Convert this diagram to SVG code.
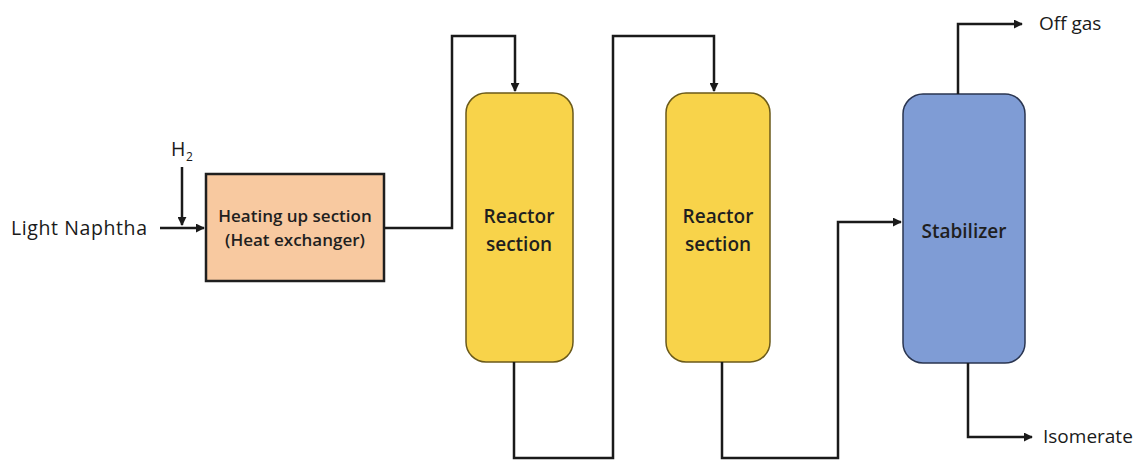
<svg xmlns="http://www.w3.org/2000/svg" width="1136" height="460" viewBox="0 0 1136 460">
<style>
.lbl{font-family:"Open Sans","Liberation Sans",sans-serif;font-size:19.5px;letter-spacing:0.6px;fill:#1a1a1a}
.out{letter-spacing:0px;font-size:19px}
.ntx{font-family:"Open Sans","Liberation Sans",sans-serif;font-size:17px;font-weight:600;fill:#1f1f1f;text-anchor:middle}
.big{font-size:19px}
.ln{fill:none;stroke:#1a1a1a;stroke-width:2.5}
</style>
<defs>
<marker id="ah" viewBox="0 0 10 10" refX="9" refY="5" markerWidth="9" markerHeight="9" markerUnits="userSpaceOnUse" orient="auto">
<path d="M0,0 L10,5 L0,10 z" fill="#1a1a1a"/>
</marker>
</defs>
<rect width="1136" height="460" fill="#fff"/>
<g id="heater">
<rect x="206" y="174" width="178" height="107" fill="#F8C9A0" stroke="#1f1f1f" stroke-width="2.5"/>
<text class="ntx" x="295" y="222">Heating up section</text>
<text class="ntx" x="295" y="246">(Heat exchanger)</text>
</g>
<g id="reactor1">
<rect x="466" y="93" width="107" height="269" rx="20" fill="#F8D34A" stroke="#6b5a1a" stroke-width="1.5"/>
<text class="ntx big" x="519" y="223">Reactor</text>
<text class="ntx big" x="519" y="251">section</text>
</g>
<g id="reactor2">
<rect x="666" y="93" width="104" height="269" rx="20" fill="#F8D34A" stroke="#6b5a1a" stroke-width="1.5"/>
<text class="ntx big" x="718" y="223">Reactor</text>
<text class="ntx big" x="718" y="251">section</text>
</g>
<g id="stabilizer">
<rect x="903" y="94" width="122" height="269" rx="20" fill="#7F9CD5" stroke="#2a3550" stroke-width="1.5"/>
<text class="ntx big" x="964" y="238">Stabilizer</text>
</g>
<g id="labels">
<text class="lbl" x="11" y="235">Light Naphtha</text>
<text class="lbl" x="171" y="156">H<tspan font-size="12" dy="5">2</tspan></text>
<text class="lbl out" x="1039" y="30">Off gas</text>
<text class="lbl out" x="1043" y="443">Isomerate</text>
</g>
<g id="connectors">
<path class="ln" d="M160,228 H204" marker-end="url(#ah)"/>
<path class="ln" d="M182,167 V225" marker-end="url(#ah)"/>
<path class="ln" d="M384,228 H452 V36 H515 V91" marker-end="url(#ah)"/>
<path class="ln" d="M514,362 V458 H613 V36 H714 V91" marker-end="url(#ah)"/>
<path class="ln" d="M722,362 V458 H838 V222 H901" marker-end="url(#ah)"/>
<path class="ln" d="M958,94 V24 H1022" marker-end="url(#ah)"/>
<path class="ln" d="M968,363 V437 H1032" marker-end="url(#ah)"/>
</g>
</svg>
